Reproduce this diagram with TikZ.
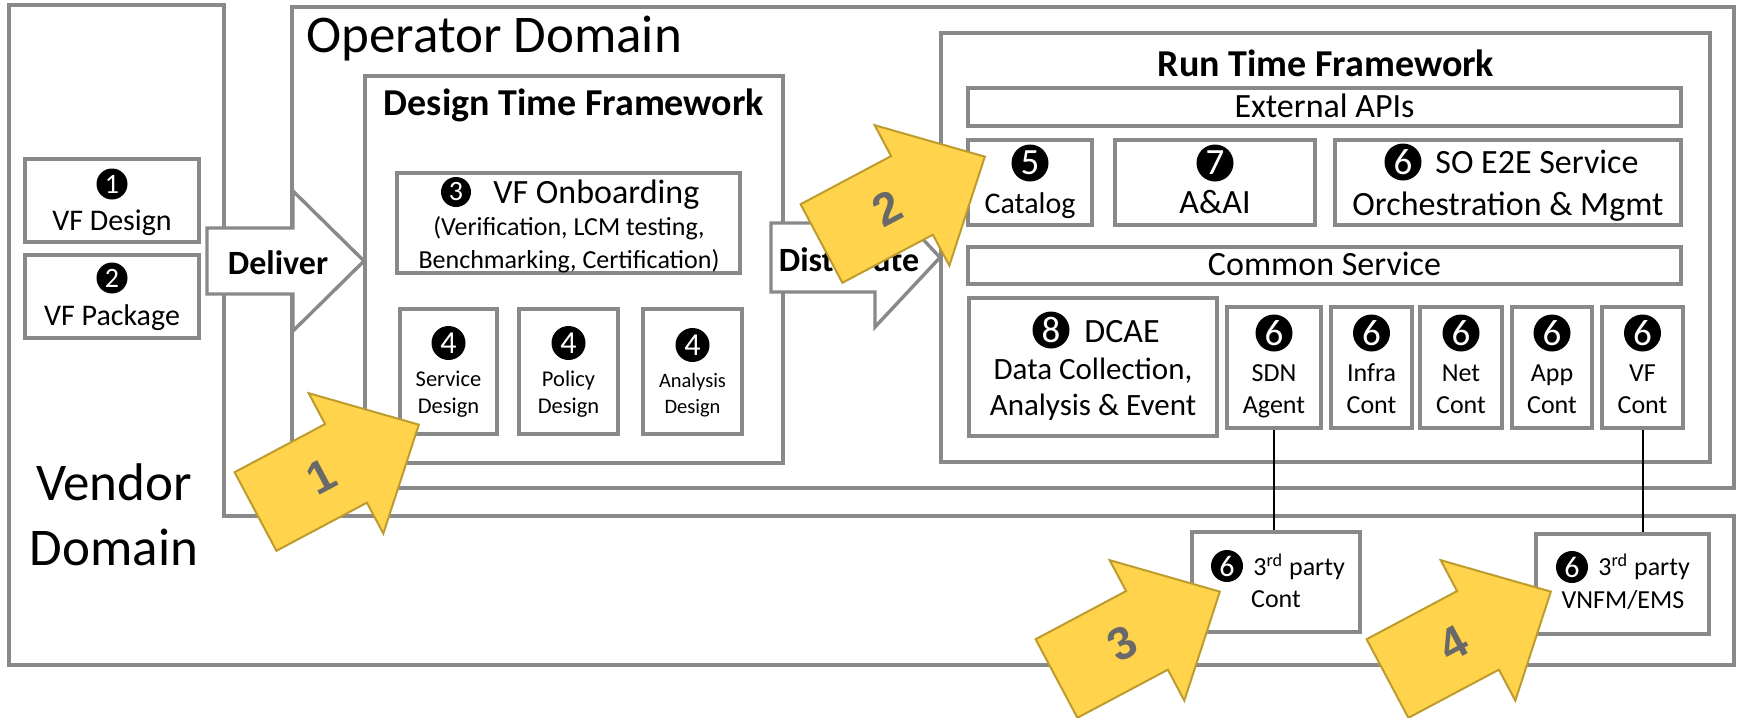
\documentclass[tikz,border=0pt]{standalone}
\usepackage{fontspec}
\setmainfont{Carlito}
\newfontfamily\arrowfont{Liberation Sans}
\usetikzlibrary{fit}
\definecolor{boxgray}{RGB}{137,137,137}
\definecolor{yfill}{RGB}{255,212,76}
\definecolor{yline}{RGB}{190,155,45}
\definecolor{ynum}{RGB}{105,105,105}
\tikzset{
  gbox/.style={draw=boxgray, line width=1.7pt, fill=white, inner sep=0pt},
  outerline/.style={draw=boxgray, line width=1.7pt, line join=miter},
  blockarrow/.style={draw=boxgray, line width=1.7pt, fill=white, line join=miter},
  badge/.style={circle, fill=black, text=white, inner sep=0pt},
  bs/.style={badge, minimum size=15.5pt, font=\fontsize{14}{14}\selectfont},
  bm/.style={badge, minimum size=15pt, font=\fontsize{14}{14}\selectfont},
  bt/.style={badge, minimum size=16pt, font=\fontsize{15}{15}\selectfont},
  bf/.style={badge, minimum size=17pt, font=\fontsize{16}{16}\selectfont},
  bl/.style={badge, minimum size=18.5pt, font=\fontsize{18.5}{18.5}\selectfont},
  txt/.style={inner sep=0pt, anchor=base},
  tdom/.style={txt, font=\fontsize{26.5}{30}\selectfont},
  tfw/.style={txt, font=\fontsize{19}{22}\selectfont\bfseries},
  tarr/.style={txt, font=\fontsize{17}{20}\selectfont\bfseries},
  tbig/.style={txt, font=\fontsize{17}{20}\selectfont},
  tmid/.style={txt, font=\fontsize{15.5}{18}\selectfont},
  tcat/.style={txt, font=\fontsize{15}{18}\selectfont},
  tsm/.style={txt, font=\fontsize{13}{15}\selectfont},
  tds/.style={txt, font=\fontsize{11.25}{13}\selectfont},
  tda/.style={txt, font=\fontsize{10.25}{12}\selectfont},
  conn/.style={draw=black, line width=1pt},
  yarr/.style={fill=yfill, draw=yline, line width=1pt, line join=miter},
  ynumst/.style={inner sep=0pt, text=ynum, font=\arrowfont\bfseries\fontsize{23}{23}\selectfont},
}
\begin{document}
\begin{tikzpicture}[x=0.5pt, y=-0.5pt]
\useasboundingbox (0,0) rectangle (1737,718);
\clip (0,0) rectangle (1737,718);
\fill[white] (0,0) rectangle (1737,718);

% Vendor domain (L shape)
\draw[outerline] (9,5) -- (224,5) -- (224,516) -- (1734,516) -- (1734,665) -- (9,665) -- cycle;
\node[tdom] (vend1) at (114,500) {Vendor};
\node[tdom] (vend2) at (114,565) {Domain};

% Vendor items
\node[gbox, fit={(25,159) (199,242)}] (vfd) {};
\node[bs] (b1) at (112,184) {1};
\node[tcat] (vfdt) at (112,230) {VF Design};
\node[gbox, fit={(25,255) (199,338)}] (vfp) {};
\node[bs] (b2) at (112,278) {2};
\node[tcat] (vfpt) at (112,325) {VF Package};

% Operator domain
\node[gbox, fit={(292,7) (1734,488)}] (op) {};
\node[tdom, anchor=base west] (optitle) at (306,52) {Operator Domain};

% Design time framework
\node[gbox, fit={(365,76) (783,463)}] (dtf) {};
\node[tfw] (dtft) at (574,115) {Design Time Framework};
\node[gbox, fit={(397,173) (740,273)}] (onb) {};
\node[bm] (b3) at (456,192) {3};
\node[tbig, anchor=base west] (onbt1) at (493,203) {VF Onboarding};
\node[tsm] (onbt2) at (569,235) {(Verification, LCM testing,};
\node[tsm] (onbt3) at (569,268) {Benchmarking, Certification)};

\node[gbox, fit={(400,309) (497,434)}] (sd) {};
\node[bf] (b4a) at (448.5,343) {4};
\node[tds] (sdt1) at (448.5,386) {Service};
\node[tds] (sdt2) at (448.5,413) {Design};
\node[gbox, fit={(519,309) (618,434)}] (pd) {};
\node[bf] (b4b) at (568.5,343) {4};
\node[tds] (pdt1) at (568.5,386) {Policy};
\node[tds] (pdt2) at (568.5,413) {Design};
\node[gbox, fit={(643,309) (742,434)}] (ad) {};
\node[bf] (b4c) at (692.5,345) {4};
\node[tda] (adt1) at (692.5,387) {Analysis};
\node[tda] (adt2) at (692.5,413) {Design};

% Run time framework
\node[gbox, fit={(941,33) (1710,462)}] (rtf) {};
\node[tfw] (rtft) at (1326,76) {Run Time Framework};
\node[gbox, fit={(968,88) (1681,126)}] (ext) {};
\node[tbig] (extt) at (1324.5,117) {External APIs};
\node[gbox, fit={(968,140) (1092,225)}] (cat) {};
\node[bl] (b5) at (1030,163) {5};
\node[tcat] (catt) at (1030,213) {Catalog};
\node[gbox, fit={(1115,140) (1315,225)}] (aai) {};
\node[bl] (b7) at (1215,163) {7};
\node[tbig] (aait) at (1215,213) {A\&AI};
\node[gbox, fit={(1335,140) (1681,225)}] (so) {};
\node[bl] (b6so) at (1403,162) {6};
\node[tbig, anchor=base west] (sot1) at (1435,173) {SO E2E Service};
\node[tbig] (sot2) at (1508,215) {Orchestration \& Mgmt};
\node[gbox, fit={(968,247) (1681,284)}] (cs) {};
\node[tbig] (cst) at (1324.5,275) {Common Service};

\node[gbox, fit={(969,298) (1217,436)}] (dcae) {};
\node[bl] (b8) at (1051,330) {8};
\node[tbig, anchor=base west] (dcaet) at (1084,342) {DCAE};
\node[tmid] (dcaet2) at (1093,379) {Data Collection,};
\node[tmid] (dcaet3) at (1093,415) {Analysis \& Event};

\node[gbox, fit={(1227,307) (1321,428)}] (sdn) {};
\node[bl] (b6a) at (1274,333) {6};
\node[tsm] (sdnt1) at (1274,381) {SDN};
\node[tsm] (sdnt2) at (1274,413) {Agent};
\node[gbox, fit={(1331,307) (1412,428)}] (infra) {};
\node[bl] (b6b) at (1371.5,333) {6};
\node[tsm] (infrat1) at (1371.5,381) {Infra};
\node[tsm] (infrat2) at (1371.5,413) {Cont};
\node[gbox, fit={(1420,307) (1502,428)}] (net) {};
\node[bl] (b6c) at (1461,333) {6};
\node[tsm] (nett1) at (1461,381) {Net};
\node[tsm] (nett2) at (1461,413) {Cont};
\node[gbox, fit={(1512,307) (1592,428)}] (app) {};
\node[bl] (b6d) at (1552,333) {6};
\node[tsm] (appt1) at (1552,381) {App};
\node[tsm] (appt2) at (1552,413) {Cont};
\node[gbox, fit={(1602,307) (1683,428)}] (vfc) {};
\node[bl] (b6e) at (1642.5,333) {6};
\node[tsm] (vfct1) at (1642.5,381) {VF};
\node[tsm] (vfct2) at (1642.5,413) {Cont};

% 3rd party boxes
\node[gbox, fit={(1192,532) (1360,632)}] (tpc) {};
\node[bt] (b6f) at (1227,566) {6};
\node[tsm, anchor=base west] (tpct1) at (1253,575) {3\textsuperscript{rd} party};
\node[tsm] (tpct2) at (1276,607) {Cont};
\node[gbox, fit={(1536,534) (1709,634)}] (vnfm) {};
\node[bt] (b6g) at (1572,567) {6};
\node[tsm, anchor=base west] (vnfmt1) at (1598,575) {3\textsuperscript{rd} party};
\node[tsm] (vnfmt2) at (1623,608) {VNFM/EMS};

% Deliver and Distribute block arrows
\draw[blockarrow] (207,228) -- (293,228) -- (293,191) -- (364,261) -- (293,331) -- (293,294) -- (207,294) -- cycle;
\node[tarr] (delt) at (278,274) {Deliver};
\draw[blockarrow] (771,223) -- (875,223) -- (875,188) -- (940,257.5) -- (875,327) -- (875,292) -- (771,292) -- cycle;
\node[tarr] (distt) at (849,271) {Distribute};

% connectors
\draw[conn] (sdn.south) -- (sdn.south |- tpc.north);
\draw[conn] (vfc.south) -- (vfc.south |- vnfm.north);

% yellow arrows
\begin{scope}[shift={(255.5,511.5)}, rotate=28]
\draw[yarr] (0,-44.5) -- (102.5,-44.5) -- (102.5,-79.5) -- (185,0) -- (102.5,79.5) -- (102.5,44.5) -- (0,44.5) -- cycle;
\node[ynumst, rotate=28] (y1) at (75,0) {1};
\end{scope}
\begin{scope}[shift={(821.5,243.5)}, rotate=28]
\draw[yarr] (0,-44.5) -- (102.5,-44.5) -- (102.5,-79.5) -- (185,0) -- (102.5,79.5) -- (102.5,44.5) -- (0,44.5) -- cycle;
\node[ynumst, rotate=28] (y2) at (75,0) {2};
\end{scope}
\begin{scope}[shift={(1056.5,678.5)}, rotate=28]
\draw[yarr] (0,-44.5) -- (102.5,-44.5) -- (102.5,-79.5) -- (185,0) -- (102.5,79.5) -- (102.5,44.5) -- (0,44.5) -- cycle;
\node[ynumst, rotate=28] (y3) at (75,0) {3};
\end{scope}
\begin{scope}[shift={(1387.5,678.5)}, rotate=28]
\draw[yarr] (0,-44.5) -- (102.5,-44.5) -- (102.5,-79.5) -- (185,0) -- (102.5,79.5) -- (102.5,44.5) -- (0,44.5) -- cycle;
\node[ynumst, rotate=28] (y4) at (75,0) {4};
\end{scope}
\end{tikzpicture}
\end{document}
